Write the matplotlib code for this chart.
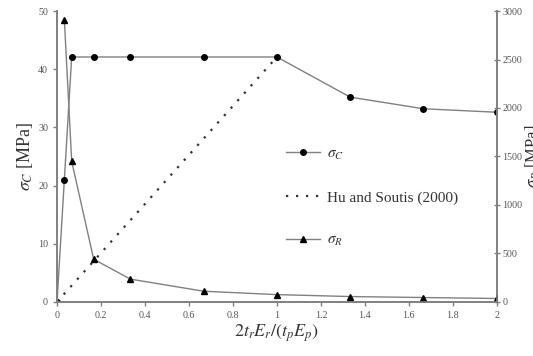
import matplotlib
matplotlib.use("Agg")
import matplotlib.pyplot as plt

plt.rcParams["font.family"] = ["Liberation Serif", "DejaVu Serif"]
plt.rcParams["mathtext.fontset"] = "stix"

# data
x_c = [0, 0.0333, 0.0667, 0.1667, 0.3333, 0.6667, 1.0, 1.3333, 1.6667, 2.0]
sigma_c = [0, 21.0, 42.1, 42.1, 42.1, 42.1, 42.1, 35.2, 33.2, 32.6]
x_r = [0.0333, 0.0667, 0.1667, 0.3333, 0.6667, 1.0, 1.3333, 1.6667, 2.0]
sigma_r = [2910, 1450, 440, 235, 110, 75, 55, 45, 35]
x_hu = [0, 1.0]
hu_soutis = [0, 42.1]

GRAY = "#808080"
TXT = "#555555"

fig = plt.figure(figsize=(5.33, 3.56), dpi=100)
ax = fig.add_axes([0.107, 0.152, 0.825, 0.817])
ax2 = ax.twinx()

l1, = ax.plot(x_c, sigma_c, color=GRAY, lw=1, marker="o", ms=4,
              mfc="black", mec="black", label=r"$\sigma_C$")
l2, = ax.plot(x_hu, hu_soutis, color="#333333", lw=1.6, ls=(0, (1, 3.5)),
              label="Hu and Soutis (2000)")
l3, = ax2.plot(x_r, sigma_r, color=GRAY, lw=1, marker="^", ms=4.5,
               mfc="black", mec="black", label=r"$\sigma_R$")

ax.set_xlim(0, 2)
ax.set_ylim(0, 50)
ax2.set_ylim(0, 3000)
ax.set_xticks([0, 0.2, 0.4, 0.6, 0.8, 1, 1.2, 1.4, 1.6, 1.8, 2])
ax.set_xticklabels(["0", "0.2", "0.4", "0.6", "0.8", "1", "1.2", "1.4",
                    "1.6", "1.8", "2"])
ax.set_yticks([0, 10, 20, 30, 40, 50])
ax2.set_yticks([0, 500, 1000, 1500, 2000, 2500, 3000])

for a in (ax, ax2):
    for s in a.spines.values():
        s.set_color(GRAY)
        s.set_linewidth(1.2)
    a.spines["top"].set_visible(False)
    a.tick_params(colors=GRAY, labelcolor=TXT, labelsize=7.2,
                  length=3, width=1)
ax2.tick_params(direction="inout", length=5, pad=1.5)

ax.set_xlabel(r"$2t_rE_r/(t_pE_p)$", fontsize=13, color="#333333",
              labelpad=2)
ax.set_ylabel(r"$\sigma_C$ [MPa]", fontsize=13, color="#333333", labelpad=2)
ax2.set_ylabel(r"$\sigma_R$ [MPa]", fontsize=12, color="#333333",
               labelpad=1)

leg = ax.legend(handles=[l1, l2, l3], loc="upper left",
                bbox_to_anchor=(0.49, 0.58), frameon=False, fontsize=11,
                labelspacing=1.9, handlelength=2.2, handletextpad=0.5)
for t in leg.get_texts():
    t.set_color("#333333")

fig.savefig("out.png", dpi=100)
